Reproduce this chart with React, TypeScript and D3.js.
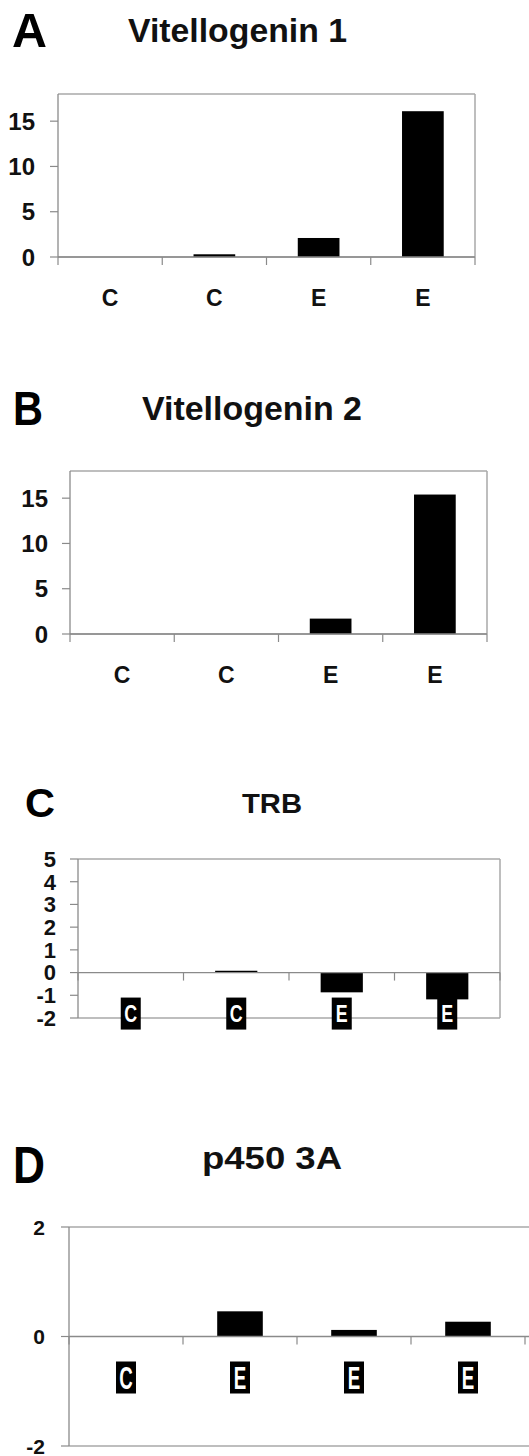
import React from "react";
import * as d3 from "d3";

const categoriesA = ["C", "C", "E", "E"];
const valuesA = [0, 0.3, 2.1, 16.1];
const ticksA = [0, 5, 10, 15];

const categoriesB = ["C", "C", "E", "E"];
const valuesB = [0, 0, 1.7, 15.4];
const ticksB = [0, 5, 10, 15];

const categoriesC = ["C", "C", "E", "E"];
const valuesC = [0, 0.08, -0.87, -1.18];
const ticksC = [-2, -1, 0, 1, 2, 3, 4, 5];

const categoriesD = ["C", "E", "E", "E"];
const valuesD = [0, 0.46, 0.12, 0.27];
const ticksD = [-2, 0, 2];

const FONT = "'Liberation Sans', Arial, Helvetica, sans-serif";

type PanelProps = {
  letter: string;
  letterPos: { x: number; y: number; size: number; len: number };
  title: string;
  titlePos: { x: number; y: number; size: number; len: number };
  cats: string[];
  vals: number[];
  ticks: number[];
  domain: [number, number];
  box: { left: number; right: number; top: number; bottom: number; drawRight: boolean };
  tickFont: number;
  tickRight: number;
  invertedLabels: boolean;
  labelFont: number;
  labelStretch?: number;
};

function Panel(p: PanelProps) {
  const x = d3.scaleBand<number>().domain(d3.range(p.cats.length)).range([p.box.left, p.box.right]).paddingInner(0).paddingOuter(0);
  const y = d3.scaleLinear().domain(p.domain).range([p.box.bottom, p.box.top]);
  const bw = x.bandwidth() * 0.4;
  const y0 = y(0);
  const boxColor = "#a8a8a8";
  const axisColor = "#8a8a8a";
  const rightEdge = p.box.drawRight ? p.box.right : 560;
  const boundaries = d3.range(p.cats.length + 1).map((i) => p.box.left + i * x.step());
  const stretch = p.labelStretch ?? 1.3;
  return (
    <g>
      <text x={p.letterPos.x} y={p.letterPos.y} fontSize={p.letterPos.size} fontWeight="bold" fontFamily={FONT} textLength={p.letterPos.len} lengthAdjust="spacingAndGlyphs">{p.letter}</text>
      <text x={p.titlePos.x} y={p.titlePos.y} fontSize={p.titlePos.size} fontWeight="bold" fontFamily={FONT} fill="#111" textLength={p.titlePos.len} lengthAdjust="spacingAndGlyphs">{p.title}</text>
      {/* box */}
      <line x1={p.box.left} x2={rightEdge} y1={p.box.top} y2={p.box.top} stroke={boxColor} strokeWidth={1.5} />
      <line x1={p.box.left} x2={rightEdge} y1={p.box.bottom} y2={p.box.bottom} stroke={boxColor} strokeWidth={1.5} />
      {p.box.drawRight && <line x1={p.box.right} x2={p.box.right} y1={p.box.top} y2={p.box.bottom} stroke={boxColor} strokeWidth={1.5} />}
      {/* y axis */}
      <line x1={p.box.left} x2={p.box.left} y1={p.box.top} y2={p.box.bottom} stroke={axisColor} strokeWidth={1.3} />
      {p.ticks.map((t) => (
        <g key={"t" + t}>
          <line x1={p.box.left - 8} x2={p.box.left} y1={y(t)} y2={y(t)} stroke={axisColor} strokeWidth={1.2} />
          <text x={p.tickRight} y={y(t)} dy="0.36em" textAnchor="end" fontSize={p.tickFont} fontWeight="bold" fontFamily={FONT} fill="#111">{t}</text>
        </g>
      ))}
      {/* bars */}
      {p.vals.map((v, i) =>
        v === 0 ? null : (
          <rect key={"b" + i} x={(x(i) as number) + (x.bandwidth() - bw) / 2} width={bw} y={Math.min(y(v), y0)} height={Math.abs(y(v) - y0)} fill="#000" />
        )
      )}
      {/* zero / category axis */}
      <line x1={p.box.left} x2={rightEdge} y1={y0} y2={y0} stroke={axisColor} strokeWidth={1.3} />
      {boundaries.map((bx, i) => (
        <line key={"c" + i} x1={bx} x2={bx} y1={y0} y2={y0 + 8} stroke={axisColor} strokeWidth={1.2} />
      ))}
      {p.cats.map((c, i) => {
        const cx = (x(i) as number) + x.bandwidth() / 2;
        if (p.invertedLabels) {
          return (
            <g key={"l" + i}>
              <rect x={cx - 10} y={y0 + 25} width={20} height={32} fill="#000" />
              <g transform={`translate(${cx},${y0 + 41}) scale(0.85,${stretch})`}>
                <text x={0} y={0} dy="0.36em" textAnchor="middle" fontSize={p.labelFont} fontWeight="bold" fontFamily={FONT} fill="#fff">{c}</text>
              </g>
            </g>
          );
        }
        return (
          <text key={"l" + i} x={cx} y={y0 + 49} textAnchor="middle" fontSize={p.labelFont} fontWeight="bold" fontFamily={FONT} fill="#111">{c}</text>
        );
      })}
    </g>
  );
}

export default function App() {
  return (
    <svg width={529} height={1456} style={{ position: "absolute", left: 0, top: 0, display: "block", background: "#fff" }}>
      <rect width={529} height={1456} fill="#fff" />
      <Panel
        letter="A" letterPos={{ x: 12, y: 47, size: 49, len: 35 }}
        title="Vitellogenin 1" titlePos={{ x: 128, y: 42, size: 34, len: 219 }}
        cats={categoriesA} vals={valuesA} ticks={ticksA} domain={[0, 18]}
        box={{ left: 58, right: 475, top: 94, bottom: 257, drawRight: true }}
        tickFont={24} tickRight={35} invertedLabels={false} labelFont={23}
      />
      <Panel
        letter="B" letterPos={{ x: 13, y: 425, size: 49, len: 30 }}
        title="Vitellogenin 2" titlePos={{ x: 142, y: 420, size: 34, len: 220 }}
        cats={categoriesB} vals={valuesB} ticks={ticksB} domain={[0, 18]}
        box={{ left: 70, right: 487, top: 471, bottom: 634, drawRight: true }}
        tickFont={24} tickRight={48} invertedLabels={false} labelFont={23}
      />
      <Panel
        letter="C" letterPos={{ x: 25, y: 817, size: 40, len: 30 }}
        title="TRB" titlePos={{ x: 242, y: 813, size: 28, len: 60 }}
        cats={categoriesC} vals={valuesC} ticks={ticksC} domain={[-2, 5]}
        box={{ left: 78, right: 500, top: 859, bottom: 1018, drawRight: true }}
        tickFont={22} tickRight={56} invertedLabels={true} labelFont={21} labelStretch={1.15}
      />
      <Panel
        letter="D" letterPos={{ x: 13, y: 1183, size: 52, len: 32 }}
        title="p450 3A" titlePos={{ x: 202, y: 1169, size: 31, len: 140 }}
        cats={categoriesD} vals={valuesD} ticks={ticksD} domain={[-2, 2]}
        box={{ left: 69, right: 525, top: 1227, bottom: 1446, drawRight: false }}
        tickFont={21} tickRight={45} invertedLabels={true} labelFont={22} labelStretch={1.4}
      />
    </svg>
  );
}
